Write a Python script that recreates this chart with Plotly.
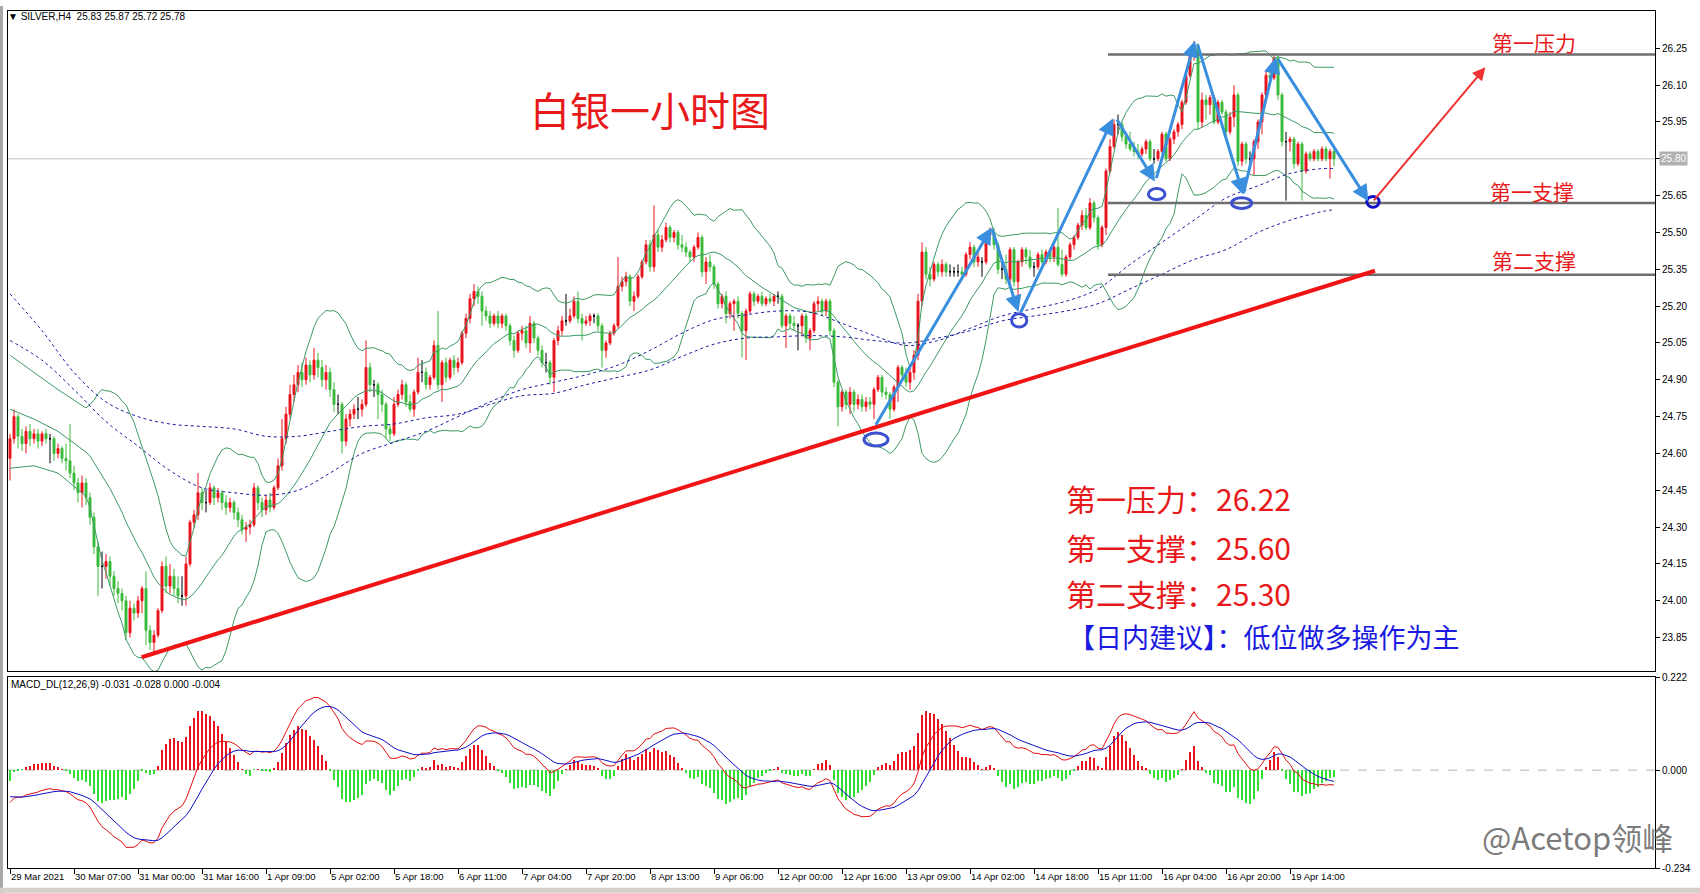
import numpy as np
import pandas as pd
import plotly.graph_objects as go

# ---------------- data (hourly bars, index 0 = 29 Mar 2021) ----------------
opens = [
24.58,24.66,24.75,24.67,24.64,24.69,24.66,24.68,24.65,24.68,24.66,24.66,24.60,24.62,24.58,24.57,
24.52,24.48,24.44,24.48,24.42,24.34,24.22,24.14,24.14,24.16,24.10,24.05,24.03,24.00,23.87,23.97,
23.95,24.00,24.05,23.88,23.83,23.86,23.96,24.14,24.06,24.10,24.05,24.02,24.02,24.15,24.32,24.35,
24.44,24.40,24.40,24.46,24.42,24.44,24.40,24.38,24.40,24.36,24.33,24.29,24.30,24.31,24.46,24.40,
24.37,24.41,24.38,24.46,24.55,24.66,24.76,24.84,24.88,24.93,24.90,24.96,24.92,24.98,24.95,24.90,
24.93,24.86,24.80,24.80,24.65,24.74,24.76,24.78,24.78,24.80,24.95,24.88,24.88,24.84,24.80,24.70,
24.68,24.80,24.84,24.88,24.81,24.78,24.85,24.93,24.93,24.88,24.91,25.04,24.88,24.97,24.91,24.98,
24.95,24.97,25.09,25.15,25.23,25.26,25.24,25.18,25.16,25.13,25.16,25.13,25.16,25.12,25.06,25.02,
25.09,25.10,25.05,25.13,25.07,25.02,24.97,24.97,24.91,25.06,25.10,25.14,25.14,25.16,25.22,25.15,
25.13,25.14,25.16,25.16,25.12,25.02,25.05,25.09,25.12,25.28,25.30,25.32,25.22,25.24,25.32,25.38,
25.45,25.36,25.49,25.44,25.47,25.52,25.48,25.50,25.45,25.44,25.42,25.40,25.44,25.48,25.34,25.38,
25.36,25.29,25.21,25.24,25.17,25.21,25.22,25.17,25.10,25.18,25.25,25.22,25.24,25.21,25.23,25.22,
25.24,25.24,25.12,25.16,25.13,25.12,25.12,25.16,25.07,25.10,25.21,25.22,25.18,25.22,25.10,24.89,
24.79,24.85,24.80,24.85,24.80,24.82,24.79,24.81,24.80,24.86,24.91,24.85,24.84,24.78,24.87,24.95,
24.92,24.89,24.93,25.00,25.22,25.42,25.33,25.31,25.37,25.34,25.37,25.34,25.34,25.34,25.34,25.33,
25.41,25.44,25.38,25.38,25.38,25.49,25.50,25.45,25.35,25.35,25.31,25.43,25.30,25.38,25.43,25.40,
25.36,25.36,25.41,25.38,25.42,25.40,25.44,25.37,25.33,25.40,25.45,25.48,25.53,25.57,25.52,25.62,
25.56,25.45,25.52,25.75,25.85,25.94,25.94,25.89,25.86,25.84,25.83,25.82,25.84,25.87,25.80,25.80,
25.83,25.90,25.80,25.88,25.91,25.94,26.03,26.14,26.22,26.26,25.95,26.04,26.02,26.05,25.95,26.03,
25.99,25.91,25.97,26.06,25.79,25.86,25.80,25.80,25.87,25.95,26.06,26.14,26.13,26.21,26.06,25.87,
25.87,25.88,25.78,25.86,25.75,25.82,25.80,25.83,25.80,25.84,25.80,25.83]

highs = [
24.68,24.78,24.76,24.70,24.71,24.72,24.70,24.70,24.69,24.70,24.68,24.67,24.64,24.63,24.64,24.72,
24.55,24.50,24.51,24.50,24.44,24.36,24.24,24.20,24.19,24.18,24.12,24.08,24.05,24.02,24.00,23.99,
24.02,24.06,24.12,23.90,23.88,23.97,24.16,24.18,24.15,24.13,24.10,24.10,24.18,24.33,24.37,24.52,
24.46,24.45,24.48,24.47,24.46,24.45,24.43,24.42,24.41,24.38,24.35,24.32,24.33,24.48,24.47,24.42,
24.43,24.44,24.47,24.58,24.74,24.79,24.88,24.92,24.96,24.97,24.99,24.98,25.03,25.01,24.98,24.96,
24.95,24.89,24.84,24.81,24.76,24.78,24.80,24.83,24.82,25.06,24.97,24.90,24.89,24.86,24.81,24.72,
24.83,24.86,24.90,24.89,24.84,24.86,24.99,24.98,24.95,24.92,25.06,25.18,24.98,24.99,24.99,25.00,
24.99,25.10,25.17,25.25,25.29,25.28,25.26,25.20,25.18,25.17,25.18,25.17,25.17,25.13,25.08,25.10,
25.12,25.12,25.16,25.14,25.08,25.04,25.01,24.98,25.07,25.12,25.16,25.25,25.19,25.24,25.26,25.17,
25.16,25.17,25.17,25.17,25.13,25.06,25.10,25.13,25.40,25.32,25.34,25.33,25.26,25.33,25.39,25.47,
25.47,25.61,25.51,25.49,25.54,25.53,25.51,25.51,25.49,25.46,25.43,25.45,25.50,25.49,25.40,25.41,
25.37,25.30,25.25,25.26,25.22,25.23,25.24,25.18,25.19,25.26,25.26,25.25,25.26,25.24,25.25,25.25,
25.26,25.25,25.17,25.17,25.16,25.13,25.17,25.17,25.11,25.22,25.24,25.23,25.23,25.23,25.11,24.90,
24.86,24.86,24.87,24.86,24.84,24.84,24.83,24.83,24.87,24.92,24.92,24.87,24.85,24.88,24.96,24.96,
24.95,24.96,25.02,25.25,25.46,25.44,25.36,25.38,25.38,25.39,25.38,25.37,25.36,25.37,25.36,25.42,
25.46,25.45,25.42,25.40,25.50,25.52,25.52,25.46,25.38,25.41,25.44,25.44,25.39,25.44,25.44,25.43,
25.38,25.42,25.43,25.43,25.43,25.45,25.60,25.43,25.41,25.46,25.49,25.54,25.59,25.60,25.64,25.63,
25.57,25.53,25.76,25.88,25.96,25.98,25.95,25.91,25.91,25.87,25.86,25.85,25.88,25.88,25.84,25.84,
25.91,25.91,25.89,25.92,25.95,26.04,26.15,26.24,26.28,26.27,26.07,26.06,26.06,26.06,26.04,26.04,
26.00,25.99,26.10,26.07,25.87,25.87,25.83,25.88,25.96,26.07,26.16,26.18,26.23,26.22,26.07,25.91,
25.89,25.89,25.87,25.87,25.83,25.83,25.84,25.84,25.85,25.85,25.84,25.85]

lows = [
24.49,24.64,24.62,24.61,24.60,24.63,24.64,24.62,24.63,24.64,24.56,24.57,24.58,24.56,24.53,24.50,
24.45,24.40,24.38,24.39,24.31,24.19,24.02,24.05,24.09,24.06,24.02,23.99,23.96,23.84,23.85,23.92,
23.93,23.95,23.82,23.80,23.78,23.85,23.95,24.03,24.03,24.02,23.99,23.98,23.98,24.14,24.30,24.33,
24.37,24.36,24.39,24.39,24.40,24.37,24.35,24.36,24.33,24.30,24.27,24.24,24.27,24.30,24.37,24.34,
24.35,24.36,24.37,24.45,24.53,24.64,24.74,24.81,24.85,24.87,24.88,24.89,24.90,24.91,24.87,24.86,
24.83,24.77,24.76,24.60,24.63,24.71,24.74,24.74,24.75,24.79,24.85,24.83,24.74,24.77,24.66,24.65,
24.67,24.79,24.82,24.79,24.77,24.75,24.84,24.89,24.86,24.86,24.90,24.86,24.81,24.89,24.90,24.92,
24.93,24.96,25.07,25.13,25.20,25.21,25.12,25.14,25.11,25.12,25.11,25.11,25.10,25.04,24.99,25.01,
25.06,25.03,25.01,25.05,25.00,24.95,24.93,24.88,24.85,25.04,25.08,25.12,25.13,25.15,25.13,25.06,
25.12,25.12,25.13,25.10,24.95,24.99,25.04,25.08,25.11,25.26,25.28,25.20,25.18,25.23,25.31,25.37,
25.34,25.34,25.42,25.42,25.46,25.46,25.46,25.43,25.42,25.40,25.38,25.38,25.43,25.32,25.29,25.34,
25.27,25.19,25.19,25.13,25.15,25.10,25.15,24.99,24.98,25.17,25.20,25.21,25.20,25.20,25.21,25.20,
25.21,25.11,25.03,25.11,25.10,25.02,25.08,25.05,25.02,25.09,25.18,25.16,25.16,25.08,24.87,24.71,
24.77,24.78,24.76,24.77,24.78,24.77,24.77,24.78,24.74,24.85,24.83,24.82,24.74,24.77,24.81,24.90,
24.87,24.86,24.90,24.98,25.20,25.31,25.28,25.30,25.32,25.32,25.32,25.32,25.32,25.32,25.31,25.32,
25.39,25.36,25.36,25.32,25.37,25.47,25.43,25.33,25.31,25.29,25.28,25.28,25.24,25.36,25.37,25.35,
25.32,25.35,25.37,25.37,25.38,25.38,25.36,25.32,25.32,25.39,25.43,25.47,25.51,25.51,25.51,25.54,
25.43,25.44,25.49,25.74,25.84,25.90,25.87,25.84,25.83,25.81,25.80,25.81,25.82,25.79,25.78,25.79,
25.82,25.79,25.79,25.86,25.89,25.92,26.02,26.13,26.20,25.92,25.93,25.96,25.98,25.94,25.94,25.98,
25.89,25.90,25.93,25.77,25.77,25.78,25.78,25.73,25.84,25.90,26.05,26.11,26.12,26.04,25.85,25.63,
25.83,25.76,25.77,25.63,25.74,25.79,25.79,25.79,25.79,25.79,25.72,25.77]

closes = [
24.66,24.75,24.67,24.64,24.69,24.66,24.68,24.65,24.68,24.66,24.66,24.60,24.62,24.58,24.57,24.52,
24.48,24.44,24.48,24.42,24.34,24.22,24.14,24.14,24.16,24.10,24.05,24.03,24.00,23.87,23.97,23.95,
24.00,24.05,23.88,23.83,23.86,23.96,24.14,24.06,24.10,24.05,24.02,24.02,24.15,24.32,24.35,24.44,
24.40,24.40,24.46,24.42,24.44,24.40,24.38,24.40,24.36,24.33,24.29,24.30,24.31,24.46,24.40,24.37,
24.41,24.38,24.46,24.55,24.66,24.76,24.84,24.88,24.93,24.90,24.96,24.92,24.98,24.95,24.90,24.93,
24.86,24.80,24.80,24.65,24.74,24.76,24.78,24.78,24.80,24.95,24.88,24.88,24.84,24.80,24.70,24.68,
24.80,24.84,24.88,24.81,24.78,24.85,24.93,24.93,24.88,24.91,25.04,24.88,24.97,24.91,24.98,24.95,
24.97,25.09,25.15,25.23,25.26,25.24,25.18,25.16,25.13,25.16,25.13,25.16,25.12,25.06,25.02,25.09,
25.10,25.05,25.13,25.07,25.02,24.97,24.97,24.91,25.06,25.10,25.14,25.14,25.16,25.22,25.15,25.13,
25.14,25.16,25.16,25.12,25.02,25.05,25.09,25.12,25.28,25.30,25.32,25.22,25.24,25.32,25.38,25.45,
25.36,25.49,25.44,25.47,25.52,25.48,25.50,25.45,25.44,25.42,25.40,25.44,25.48,25.34,25.38,25.36,
25.29,25.21,25.24,25.17,25.21,25.22,25.17,25.10,25.18,25.25,25.22,25.24,25.21,25.23,25.22,25.24,
25.24,25.12,25.16,25.13,25.12,25.12,25.16,25.07,25.10,25.21,25.22,25.18,25.22,25.10,24.89,24.79,
24.85,24.80,24.85,24.80,24.82,24.79,24.81,24.80,24.86,24.91,24.85,24.84,24.78,24.87,24.95,24.92,
24.89,24.93,25.00,25.22,25.42,25.33,25.31,25.37,25.34,25.37,25.34,25.34,25.34,25.34,25.33,25.41,
25.44,25.38,25.40,25.38,25.49,25.50,25.45,25.35,25.35,25.31,25.43,25.30,25.38,25.43,25.40,25.36,
25.36,25.41,25.38,25.42,25.40,25.44,25.37,25.33,25.40,25.45,25.48,25.53,25.57,25.52,25.62,25.56,
25.45,25.52,25.75,25.85,25.94,25.94,25.89,25.86,25.84,25.83,25.82,25.84,25.87,25.80,25.80,25.83,
25.90,25.80,25.88,25.91,25.94,26.03,26.14,26.22,26.26,25.95,26.04,26.02,26.05,25.95,26.03,25.99,
25.91,25.97,26.06,25.79,25.86,25.80,25.80,25.87,25.95,26.06,26.14,26.13,26.21,26.06,25.87,25.87,
25.88,25.78,25.86,25.75,25.82,25.80,25.83,25.80,25.84,25.80,25.83,25.80]

time_tick_idx = list(range(0, 321, 16))
time_tick_labels = ["29 Mar 2021", "30 Mar 07:00", "31 Mar 00:00", "31 Mar 16:00", "1 Apr 09:00",
                    "5 Apr 02:00", "5 Apr 18:00", "6 Apr 11:00", "7 Apr 04:00", "7 Apr 20:00",
                    "8 Apr 13:00", "9 Apr 06:00", "12 Apr 00:00", "12 Apr 16:00", "13 Apr 09:00",
                    "14 Apr 02:00", "14 Apr 18:00", "15 Apr 11:00", "16 Apr 04:00", "16 Apr 20:00",
                    "19 Apr 14:00"]
price_ticks = [26.25, 26.10, 25.95, 25.80, 25.65, 25.50, 25.35, 25.20, 25.05, 24.90,
               24.75, 24.60, 24.45, 24.30, 24.15, 24.00, 23.85]
macd_ticks = [0.222, 0.0, -0.234]

# moving averages (blue dotted), read at every 8th bar
ma_idx = list(range(0, 329, 8)) + [331]
ma_slow = [25.25,25.10,24.93,24.81,24.75,24.72,24.71,24.70,24.67,24.67,
           24.69,24.71,24.72,24.745,24.76,24.80,24.835,24.845,24.88,24.91,
           24.94,24.995,25.045,25.07,25.075,25.08,25.075,25.06,25.05,25.07,
           25.10,25.14,25.16,25.18,25.21,25.27,25.33,25.39,25.43,25.50,
           25.55,25.585,25.593]
ma_fast = [25.06,24.98,24.86,24.73,24.63,24.53,24.46,24.44,24.43,24.45,
           24.52,24.60,24.645,24.69,24.75,24.81,24.86,24.89,24.92,24.96,
           25.02,25.09,25.145,25.165,25.18,25.175,25.13,25.08,25.04,25.06,
           25.11,25.16,25.19,25.22,25.27,25.37,25.46,25.55,25.64,25.69,
           25.74,25.76,25.76]

# Bollinger band values before the 20-bar window fills
bb_head_idx = [0, 6, 12]
bb_head_up = [25.00, 24.93, 24.86]
bb_head_mid = [24.78, 24.74, 24.69]
bb_head_low = [24.54, 24.55, 24.52]

EMA12_SEED, EMA26_SEED, DEA_SEED = 24.70, 24.78, -0.06

# drawn objects
level_prices = [26.225, 25.62, 25.328]
level_start = 274.5
trend_x = [32.9, 341.25]
trend_y = [23.77, 25.344]
arrow_tail_x = [216.25, 245.4, 252.5, 276.5, 286.5, 296.75, 308.3, 316.75]
arrow_tail_y = [24.711, 25.520, 25.169, 25.966, 25.715, 26.273, 25.654, 26.212]
arrow_head_x = [245.4, 252.1, 275.8, 286.25, 296.25, 308.3, 316.5, 339.6]
arrow_head_y = [25.520, 25.176, 25.965, 25.708, 26.281, 25.654, 26.214, 25.627]
red_arrow = [340.65, 25.625, 368.85, 26.173]
circle_x0 = [213.5, 250.4, 284.6, 305.4, 339.2]
circle_x1 = [219.5, 254.2, 288.75, 310.4, 342.3]
circle_y0 = [24.630, 25.115, 25.634, 25.598, 25.603]
circle_y1 = [24.683, 25.169, 25.679, 25.641, 25.647]
current_price = 25.80

# ---------------- derived ----------------
N = len(closes)
assert len(opens) == N and len(highs) == N and len(lows) == N
o = np.array(opens); h = np.array(highs); l = np.array(lows); c = np.array(closes)
xi = np.arange(N)

cs = pd.Series(c)
mid = cs.rolling(20).mean()
sd = cs.rolling(20).std(ddof=0)
bb_x = bb_head_idx + list(range(19, N))
bb_up = bb_head_up + list((mid + 2 * sd)[19:])
bb_md = bb_head_mid + list(mid[19:])
bb_lo = bb_head_low + list((mid - 2 * sd)[19:])


def ema(vals, n, seed):
    a = 2.0 / (n + 1)
    out, prev = [], seed
    for v in vals:
        prev = a * v + (1 - a) * prev
        out.append(prev)
    return np.array(out)


dif = ema(c, 12, EMA12_SEED) - ema(c, 26, EMA26_SEED)
dea = ema(dif, 9, DEA_SEED)
hist = 2 * (dif - dea)

# ---------------- figure ----------------
W, H = 1700, 893
ML, MR, MT, MB = 8, 45, 5, 25
PW, PH = W - ML - MR, H - MT - MB


def px_x(px):
    return (px - ML) / PW


def px_y(py):
    return (H - MB - py) / PH


XR = [-0.5, 411.25]
RED = "#e8141e"
GREEN = "#3cba3c"

fig = go.Figure()


def add_candles(mask, inc, dec):
    idx = np.where(mask)[0]
    fig.add_trace(go.Candlestick(
        x=idx, open=o[idx], high=h[idx], low=l[idx], close=c[idx],
        increasing=dict(line=dict(color=inc, width=1), fillcolor=inc),
        decreasing=dict(line=dict(color=dec, width=1), fillcolor=dec),
        whiskerwidth=0, showlegend=False, hoverinfo="skip",
        xaxis="x", yaxis="y"))


# Bollinger bands & MAs (behind candles)
for yy in (bb_up, bb_md, bb_lo):
    fig.add_trace(go.Scatter(x=bb_x, y=yy, mode="lines",
                             line=dict(color="#3c9a64", width=1),
                             hoverinfo="skip", showlegend=False, xaxis="x", yaxis="y"))
for yy in (ma_slow, ma_fast):
    fig.add_trace(go.Scatter(x=ma_idx, y=yy, mode="lines",
                             line=dict(color="#1c1ca0", width=1, dash="3px,3px", shape="spline"),
                             hoverinfo="skip", showlegend=False, xaxis="x", yaxis="y"))

add_candles(c > o, RED, RED)
add_candles(c < o, GREEN, GREEN)
add_candles(c == o, "black", "black")

# MACD pane
fig.add_trace(go.Bar(x=xi, y=hist, width=0.45,
                     marker=dict(color=[RED if v > 0 else "#33dd33" for v in hist], line=dict(width=0)),
                     hoverinfo="skip", showlegend=False, xaxis="x2", yaxis="y2"))
fig.add_trace(go.Scatter(x=xi, y=dif, mode="lines", line=dict(color="#e01010", width=1),
                         hoverinfo="skip", showlegend=False, xaxis="x2", yaxis="y2"))
fig.add_trace(go.Scatter(x=xi, y=dea, mode="lines", line=dict(color="#1010c8", width=1),
                         hoverinfo="skip", showlegend=False, xaxis="x2", yaxis="y2"))

shapes = []
shapes.append(dict(type="line", xref="x", yref="y", x0=XR[0], x1=XR[1], y0=current_price, y1=current_price,
                   line=dict(color="#c4c4c4", width=1), layer="below"))
shapes.append(dict(type="line", xref="x2", yref="y2", x0=XR[0], x1=XR[1], y0=0, y1=0,
                   line=dict(color="#b4b4b4", width=1, dash="dash"), layer="below"))
for lv in level_prices:
    shapes.append(dict(type="line", xref="x", yref="y", x0=level_start, x1=XR[1], y0=lv, y1=lv,
                       line=dict(color="#6e6e6e", width=2.5)))
shapes.append(dict(type="line", xref="x", yref="y", x0=trend_x[0], x1=trend_x[1],
                   y0=trend_y[0], y1=trend_y[1], line=dict(color="#f01414", width=4)))
for k in range(len(circle_x0)):
    shapes.append(dict(type="circle", xref="x", yref="y",
                       x0=circle_x0[k], x1=circle_x1[k], y0=circle_y0[k], y1=circle_y1[k],
                       line=dict(color="#1010c8" if k == 4 else "#3c50d2", width=3)))
shapes.append(dict(type="rect", xref="paper", yref="paper", x0=px_x(0), x1=px_x(3), y0=px_y(893), y1=px_y(0),
                   fillcolor="#a8a8a8", line=dict(width=0)))
shapes.append(dict(type="rect", xref="paper", yref="paper", x0=px_x(0), x1=px_x(1700), y0=px_y(893), y1=px_y(888),
                   fillcolor="#d4d0c8", line=dict(width=0)))

ann = []
for k in range(len(arrow_tail_x)):
    ann.append(dict(x=arrow_head_x[k], y=arrow_head_y[k], ax=arrow_tail_x[k], ay=arrow_tail_y[k],
                    xref="x", yref="y", axref="x", ayref="y", text="", showarrow=True,
                    arrowhead=2, arrowsize=1.1, arrowwidth=3, arrowcolor="#3a8ede", standoff=0))
ann.append(dict(x=red_arrow[2], y=red_arrow[3], ax=red_arrow[0], ay=red_arrow[1],
                xref="x", yref="y", axref="x", ayref="y", text="", showarrow=True,
                arrowhead=2, arrowsize=1.3, arrowwidth=2, arrowcolor="#f03232", standoff=0))

CJK = "Noto Sans CJK SC"


def txt(s, px, py, size, color, xanchor="center", family=CJK, **kw):
    d = dict(text=s, xref="paper", yref="paper", x=px_x(px), y=px_y(py), showarrow=False,
             xanchor=xanchor, yanchor="middle", font=dict(family=family, size=size, color=color))
    d.update(kw)
    ann.append(d)


txt("白银一小时图", 650, 104, 40, "#e8191a")
txt("第一压力", 1534, 36, 21, "#e8191a")
txt("第一支撑", 1532, 186, 21, "#e8191a")
txt("第二支撑", 1534, 256, 21, "#e8191a")
txt("第一压力：26.22", 1064, 495, 30, "#e8191a", xanchor="left")
txt("第一支撑：25.60", 1064, 545, 30, "#e8191a", xanchor="left")
txt("第二支撑：25.30", 1064, 591, 30, "#e8191a", xanchor="left")
txt("【日内建议】：低位做多操作为主", 1066, 635, 27, "#1a1ae0", xanchor="left")
txt("▼ SILVER,H4  25.83 25.87 25.72 25.78", 6, 11, 10, "black", xanchor="left", family="Liberation Sans")
txt("MACD_DL(12,26,9) -0.031 -0.028 0.000 -0.004", 9, 683, 10, "black", xanchor="left",
    family="Liberation Sans")
txt("@Acetop领峰", 1480, 836, 31, "rgba(100,100,100,0.85)", xanchor="left")
ann.append(dict(text="25.80", xref="paper", yref="y", x=px_x(1659), y=current_price, showarrow=False,
                xanchor="left", yanchor="middle", bgcolor="#b0b0b0", borderpad=1,
                font=dict(family="Liberation Sans", size=10, color="white")))

axis_font = dict(family="Liberation Sans", size=10, color="black")
fig.update_layout(
    width=W, height=H, margin=dict(l=ML, r=MR, t=MT, b=MB),
    paper_bgcolor="white", plot_bgcolor="white", showlegend=False,
    bargap=0, shapes=shapes, annotations=ann,
    xaxis=dict(domain=[0, 1], range=XR, anchor="y", showticklabels=False, showgrid=False,
               zeroline=False, showline=True, linecolor="black", mirror=True, ticks="",
               rangeslider=dict(visible=False), matches="x2"),
    yaxis=dict(domain=[px_y(670), 1], range=[23.7125, 26.402], side="right",
               tickvals=price_ticks, ticktext=["%.2f" % v for v in price_ticks],
               ticks="outside", ticklen=4, tickcolor="black", showgrid=False, zeroline=False,
               showline=True, linecolor="black", mirror=True, tickfont=axis_font),
    xaxis2=dict(domain=[0, 1], range=XR, anchor="y2", tickvals=time_tick_idx,
                ticktext=time_tick_labels, ticks="outside", ticklen=5, tickcolor="black",
                ticklabelposition="outside right", tickangle=0, showgrid=False, zeroline=False,
                showline=True, linecolor="black", mirror=True,
                tickfont=dict(family="Liberation Sans", size=9.5, color="black"),
                rangeslider=dict(visible=False)),
    yaxis2=dict(domain=[0, px_y(676)], range=[-0.234, 0.222], side="right",
                tickvals=macd_ticks, ticktext=["0.222", "0.000", "-0.234"],
                ticks="outside", ticklen=4, tickcolor="black", showgrid=False, zeroline=False,
                showline=True, linecolor="black", mirror=True, tickfont=axis_font),
)

fig.write_html("out.html", config={"displayModeBar": False},
               post_script="document.body.style.margin='0px';document.body.style.overflow='hidden';")
